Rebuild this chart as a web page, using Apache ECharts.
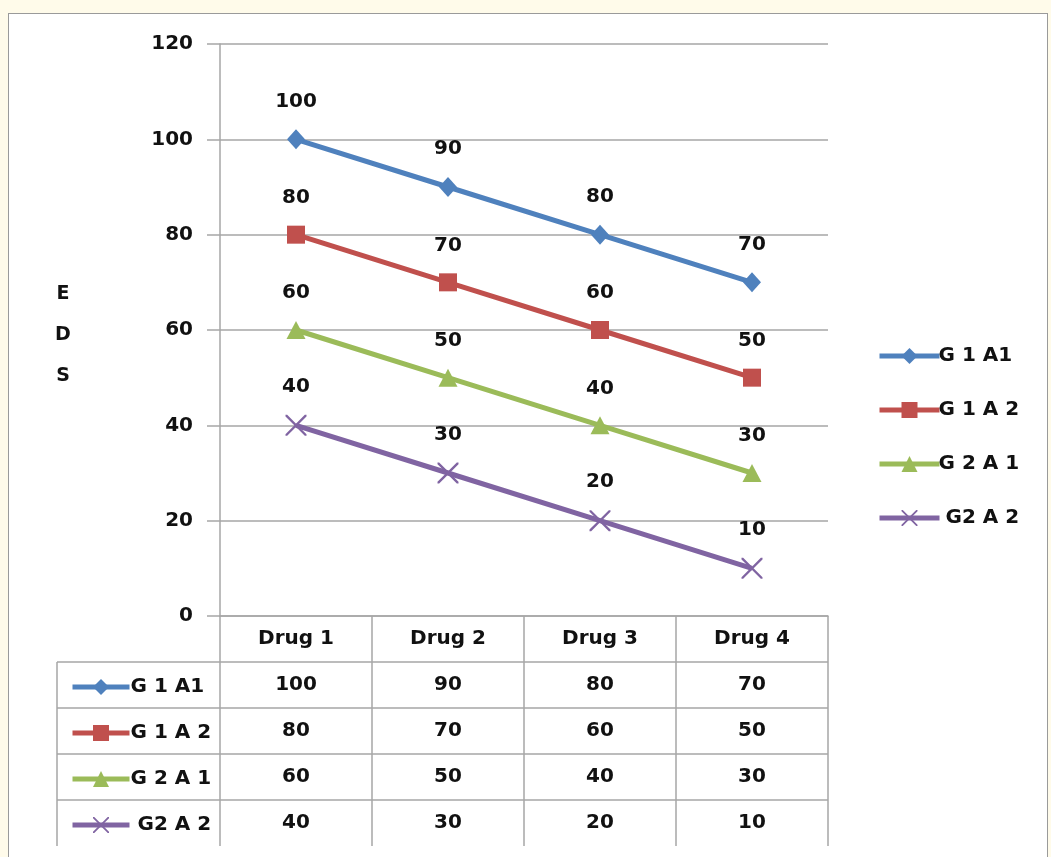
<!DOCTYPE html>
<html>
<head>
<meta charset="utf-8">
<script src="https://cdn.jsdelivr.net/npm/echarts@6/dist/echarts.min.js"></script>
<style>
  html, body { margin: 0; padding: 0; background: #fffbea; width: 1051px; height: 857px; overflow: hidden; }
  #panel { position: absolute; left: 8px; top: 13px; width: 1040px; height: 900px; background: #ffffff; border: 1px solid #9a9a9a; box-sizing: border-box; }
  #chart { position: absolute; left: 0; top: 0; width: 1051px; height: 857px; }
</style>
</head>
<body>
<div id="panel"></div>
<div id="chart"></div>
<script>
// Categories and series values
const categories = ['Drug 1', 'Drug 2', 'Drug 3', 'Drug 4'];
const seriesNames = ['G 1 A1', 'G 1 A 2', 'G 2 A 1', 'G2 A 2'];
const g1a1 = [100, 90, 80, 70];
const g1a2 = [80, 70, 60, 50];
const g2a1 = [60, 50, 40, 30];
const g2a2 = [40, 30, 20, 10];
const yTicks = { min: 0, max: 120, interval: 20 };
const yTitle = 'E\nD\nS';

const seriesValues = [g1a1, g1a2, g2a1, g2a2];
const colors = ['#4f81bd', '#c0504d', '#9bbb59', '#8064a2'];
const crossPath = 'path://M0,0 L8,0 L100,92 L100,100 L92,100 L0,8 Z M100,0 L100,8 L8,100 L0,100 L0,92 L92,0 Z';
const symbols = ['diamond', 'rect', 'triangle', crossPath];
const symbolSizes = [[18, 20], 18, [19, 18], 21];

const FONT = 'DejaVu Sans';
const FS = 20;
const TEXT = '#111111';
const GRID = '#a6a6a6';
const LINE_W = 5;

// layout of plot and data table
const L = { left: 220, right: 828, top: 44, bottom: 616, rowH: 46, tableLeft: 57 };

const chart = echarts.init(document.getElementById('chart'), null, { renderer: 'canvas' });

const series = seriesNames.map((name, i) => ({
  name,
  type: 'line',
  data: seriesValues[i],
  symbol: symbols[i],
  symbolSize: symbolSizes[i],
  lineStyle: { color: colors[i], width: LINE_W },
  itemStyle: { color: colors[i] },
  emphasis: { disabled: true },
  label: {
    show: true,
    position: 'top',
    distance: 18,
    color: TEXT,
    fontFamily: FONT,
    fontWeight: 'bold',
    fontSize: FS
  },
  z: 3
}));

// horizontal rules and left edge of the data table
const graphics = [];
for (let r = 1; r <= 4; r++) {
  const y = L.bottom + r * L.rowH;
  graphics.push({ type: 'line', shape: { x1: L.tableLeft, y1: y, x2: L.right, y2: y }, style: { stroke: GRID, lineWidth: 1.5 } });
}
graphics.push({ type: 'line', shape: { x1: L.tableLeft, y1: L.bottom + L.rowH, x2: L.tableLeft, y2: L.bottom + 5 * L.rowH }, style: { stroke: GRID, lineWidth: 1.5 } });

// stacked y-axis title
graphics.push({
  type: 'text',
  x: 63,
  y: 335,
  style: {
    text: yTitle,
    fill: TEXT,
    font: 'bold 19px "DejaVu Sans"',
    lineHeight: 41,
    align: 'center',
    verticalAlign: 'middle'
  }
});

const legendFormatter = n => (n === 'G2 A 2' ? ' ' + n : n);
const legendText = { color: TEXT, fontFamily: FONT, fontWeight: 'bold', fontSize: FS, lineHeight: 26 };

chart.setOption({
  backgroundColor: 'transparent',
  animation: false,
  color: colors,
  grid: { left: L.left, right: 1051 - L.right, top: L.top, bottom: 857 - L.bottom, containLabel: false },
  legend: [
    {
      orient: 'vertical',
      left: 872,
      top: 338,
      itemWidth: 60,
      itemHeight: 20,
      itemGap: 28,
      data: seriesNames,
      formatter: legendFormatter,
      lineStyle: { width: LINE_W },
      textStyle: Object.assign({ padding: [0, 0, 0, -6] }, legendText)
    },
    {
      orient: 'vertical',
      left: 65,
      top: 669,
      itemWidth: 57,
      itemHeight: 20,
      itemGap: 20,
      data: seriesNames,
      formatter: legendFormatter,
      selectedMode: false,
      lineStyle: { width: LINE_W },
      textStyle: Object.assign({ padding: [0, 0, 0, -4] }, legendText)
    }
  ],
  xAxis: {
    type: 'category',
    data: categories,
    boundaryGap: true,
    axisLine: { show: true, lineStyle: { color: GRID, width: 1.5 } },
    axisTick: { show: true, length: 5 * L.rowH, interval: 0, lineStyle: { color: GRID, width: 1.5 } },
    axisLabel: {
      interval: 0,
      margin: 0,
      color: TEXT,
      fontFamily: FONT,
      fontWeight: 'bold',
      fontSize: FS,
      lineHeight: L.rowH,
      // column of the data table: category header, then one value per series
      formatter: (value, idx) => [value].concat(seriesValues.map(v => String(v[idx]))).join('\n')
    },
    splitLine: { show: false }
  },
  yAxis: {
    type: 'value',
    min: yTicks.min,
    max: yTicks.max,
    interval: yTicks.interval,
    axisLine: { show: true, lineStyle: { color: GRID, width: 1.5 } },
    axisTick: { show: true, length: 13, lineStyle: { color: GRID, width: 1.5 } },
    axisLabel: { margin: 27, color: TEXT, fontFamily: FONT, fontWeight: 'bold', fontSize: FS },
    splitLine: { show: true, lineStyle: { color: GRID, width: 1.5 } }
  },
  graphic: graphics,
  series
});
</script>
</body>
</html>
